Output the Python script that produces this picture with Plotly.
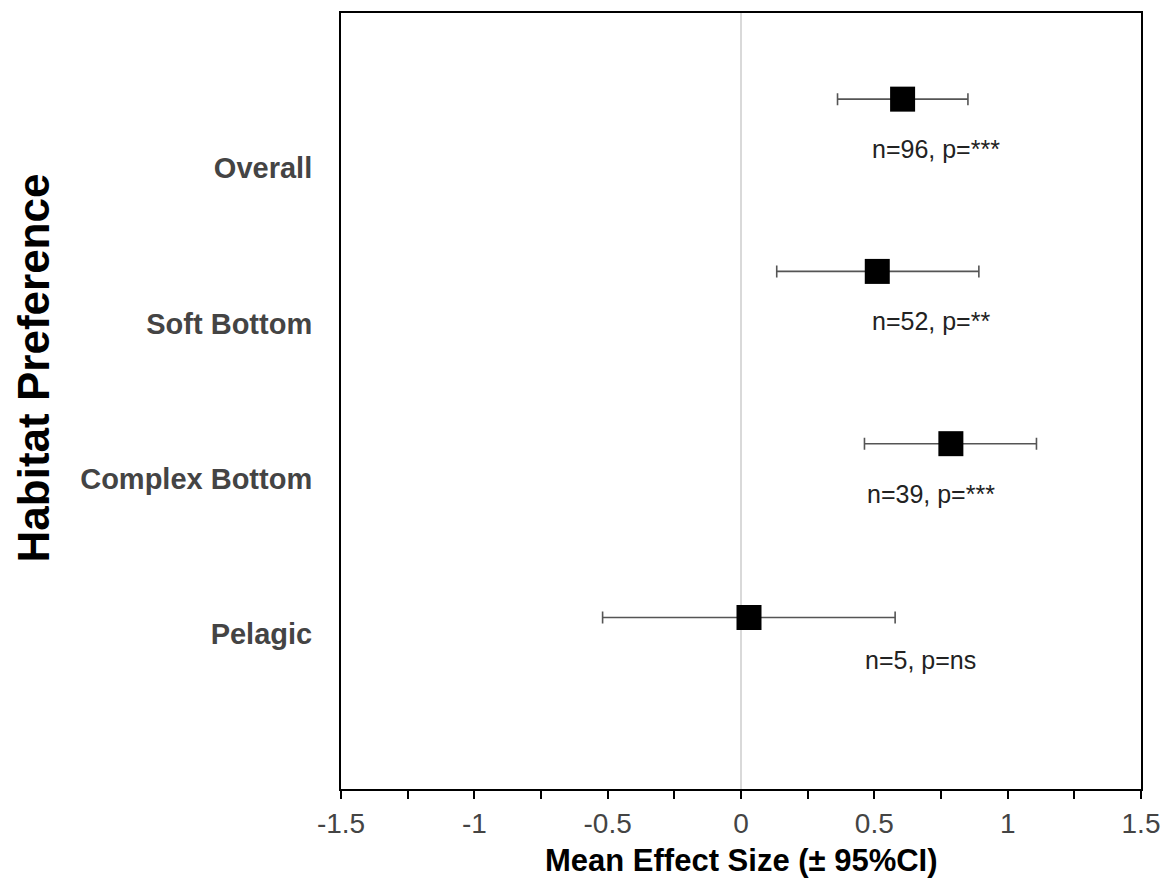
import plotly.graph_objects as go

# Data
categories = ["Overall", "Soft Bottom", "Complex Bottom", "Pelagic"]
label_pos = [8, 6, 4, 2]
point_pos = [8.89, 6.67, 4.45, 2.21]
note_pos = [8.25, 6.03, 3.80, 1.66]
mean_effect = [0.606, 0.511, 0.787, 0.030]
ci_low = [0.362, 0.134, 0.463, -0.519]
ci_high = [0.851, 0.892, 1.108, 0.578]
notes = ["n=96, p=***", "n=52, p=**", "n=39, p=***", "n=5, p=ns"]
note_x = [0.485, 0.485, 0.466, 0.458]

FONT = "Arial, Liberation Sans, sans-serif"

err_plus = [h - m for h, m in zip(ci_high, mean_effect)]
err_minus = [m - l for m, l in zip(mean_effect, ci_low)]

fig = go.Figure()

# zero reference line
fig.add_trace(go.Scatter(
    x=[0, 0], y=[0, 10], mode="lines",
    line=dict(color="#cccccc", width=1.5), hoverinfo="skip", showlegend=False))

fig.add_trace(go.Scatter(
    x=mean_effect, y=point_pos, mode="markers",
    marker=dict(symbol="square", size=25, color="black"),
    error_x=dict(type="data", symmetric=False, array=err_plus, arrayminus=err_minus,
                 color="#555555", thickness=1.6, width=6),
    showlegend=False))

for x, y, t in zip(note_x, note_pos, notes):
    fig.add_annotation(x=x, y=y, text=t, showarrow=False, xanchor="left", yanchor="middle",
                       font=dict(family=FONT, size=25, color="#222222"))

fig.add_annotation(xref="paper", yref="paper", x=0.5, y=-0.0915, text="<b>Mean Effect Size (± 95%CI)</b>",
                   showarrow=False, xanchor="center", yanchor="middle",
                   font=dict(family=FONT, size=31, color="black"))
fig.add_annotation(xref="paper", yref="paper", x=-0.385, y=0.542, text="<b>Habitat Preference</b>",
                   showarrow=False, xanchor="center", yanchor="middle", textangle=-90,
                   font=dict(family=FONT, size=44, color="black"))

fig.update_xaxes(
    range=[-1.5, 1.5], tickvals=[-1.5, -1, -0.5, 0, 0.5, 1, 1.5],
    ticktext=["-1.5", "-1", "-0.5", "0", "0.5", "1", "1.5"],
    ticks="outside", ticklen=8, tickwidth=1.5, tickcolor="black",
    minor=dict(dtick=0.25, tick0=-1.5, ticks="outside", ticklen=8, tickwidth=1.5, tickcolor="black"),
    showline=True, linewidth=2, linecolor="black", mirror=True,
    showgrid=False, zeroline=False,
    tickfont=dict(family=FONT, size=28, color="#444444"))
fig.update_yaxes(
    range=[0, 10], tickvals=label_pos, ticktext=["<b>%s</b>" % c for c in categories],
    ticks="outside", ticklen=21, tickcolor="rgba(0,0,0,0)",
    showline=True, linewidth=2, linecolor="black", mirror=True,
    showgrid=False, zeroline=False,
    tickfont=dict(family=FONT, size=29, color="#444444"))

fig.update_layout(
    width=1155, height=870,
    margin=dict(l=333, r=20, t=3, b=89),
    plot_bgcolor="white", paper_bgcolor="white",
    font=dict(family=FONT))

fig.write_html("out.html")
